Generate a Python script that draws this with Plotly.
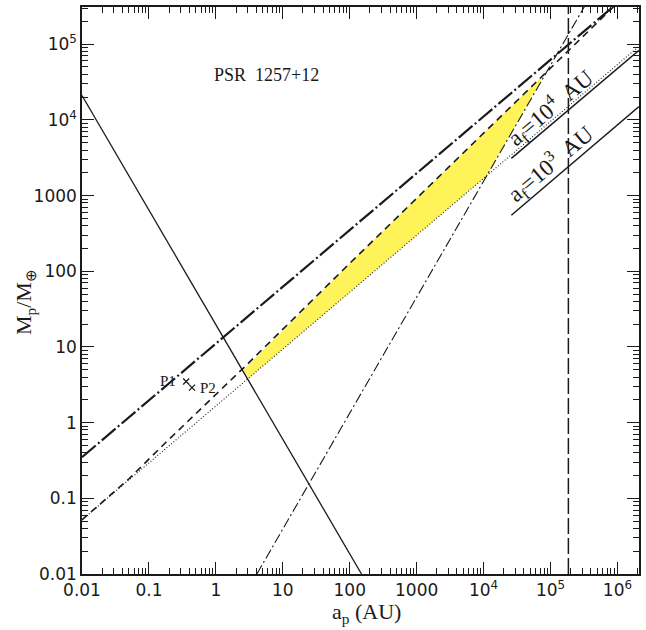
import plotly.graph_objects as go
import numpy as np

# ---- data (a_p in AU, M_p in Earth masses) ----
desc_a = [0.01, 150]            # solid descending line
desc_m = [2.1e4, 0.01]
ldash_a = [0.01, 1e6]           # thick long-dash line
ldash_m = [0.35, 3.5e5]
dashed_a = [0.01, 0.05, 0.18, 2.6, 100, 3200, 8.5e4, 1e6]   # short-dashed curve
dashed_m = [0.052, 0.18, 0.55, 5.3, 127, 2480, 4.2e4, 3.5e5]
dotted_a = [0.01, 2.1e6]
dotted_m = [0.052, 9.4e4]
steep_a = [4.1, 4e5]            # steep dash-dot line
steep_m = [0.01, 4.4e5]
vert_a = [1.85e5, 1.85e5]
vert_m = [0.01, 1e6]
af4_a = [2.6e4, 2.1e6]          # a_f = 10^4 AU
af4_m = [3100, 8.3e4]
af3_a = [2.6e4, 2.1e6]          # a_f = 10^3 AU
af3_m = [550, 1.5e4]
yellow_a = [3.1, 1.1e4, 8.5e4, 3200, 100, 2.6, 3.1]
yellow_m = [3.9, 1820, 4.2e4, 2480, 127, 5.0, 3.9]
planet_a = [0.36, 0.44]
planet_m = [3.5, 2.9]

xtick_vals = [0.01, 0.1, 1, 10, 100, 1000, 1e4, 1e5, 1e6]
xtick_text = ["0.01", "0.1", "1", "10", "100", "1000", "10<sup>4</sup>", "10<sup>5</sup>", "10<sup>6</sup>"]
ytick_vals = [0.01, 0.1, 1, 10, 100, 1000, 1e4, 1e5]
ytick_text = ["0.01", "0.1", "1", "10", "100", "1000", "10<sup>4</sup>", "10<sup>5</sup>"]

INK = "#1a1a1a"
fig = go.Figure()

fig.add_trace(go.Scatter(x=yellow_a, y=yellow_m, fill="toself", fillcolor="#FFF35A",
                         line=dict(width=0), mode="lines", hoverinfo="skip"))
fig.add_trace(go.Scatter(x=desc_a, y=desc_m, mode="lines", line=dict(color=INK, width=1.3)))
fig.add_trace(go.Scatter(x=ldash_a, y=ldash_m, mode="lines",
                         line=dict(color=INK, width=2.2, dash="18px,3px,2px,3px")))
fig.add_trace(go.Scatter(x=dashed_a, y=dashed_m, mode="lines",
                         line=dict(color=INK, width=1.6, dash="7px,5px")))
fig.add_trace(go.Scatter(x=dotted_a, y=dotted_m, mode="lines",
                         line=dict(color=INK, width=1.1, dash="1px,2px")))
fig.add_trace(go.Scatter(x=steep_a, y=steep_m, mode="lines",
                         line=dict(color=INK, width=1.1, dash="10px,3px,2px,3px")))
fig.add_trace(go.Scatter(x=vert_a, y=vert_m, mode="lines",
                         line=dict(color=INK, width=1.5, dash="16px,4px")))
fig.add_trace(go.Scatter(x=af4_a, y=af4_m, mode="lines", line=dict(color=INK, width=1.5)))
fig.add_trace(go.Scatter(x=af3_a, y=af3_m, mode="lines", line=dict(color=INK, width=1.5)))
fig.add_trace(go.Scatter(x=planet_a, y=planet_m, mode="markers",
                         marker=dict(symbol="x-thin", size=6, line=dict(color=INK, width=1.3))))

def minor_vals(lo, hi):
    return [m * 10.0 ** e for e in range(lo, hi) for m in range(2, 10)]

axis_common = dict(type="log", showgrid=False, zeroline=False, showline=True,
                   linecolor=INK, linewidth=1.5, mirror="ticks", ticks="inside",
                   ticklen=12, tickwidth=1.3, tickcolor=INK, tickmode="array",
                   tickfont=dict(family="DejaVu Sans", size=17, color=INK))

fig.update_xaxes(**axis_common, range=[-2, np.log10(2.1e6)], tickvals=xtick_vals, ticktext=xtick_text,
                 minor=dict(ticks="inside", ticklen=6, tickwidth=1.1, tickcolor=INK,
                            tickvals=minor_vals(-2, 7), showgrid=False))
fig.update_yaxes(**axis_common, range=[-2, np.log10(3.1e5)], tickvals=ytick_vals, ticktext=ytick_text,
                 minor=dict(ticks="inside", ticklen=6, tickwidth=1.1, tickcolor=INK,
                            tickvals=minor_vals(-2, 6), showgrid=False))

serif = "Liberation Serif"
ann = [
    dict(x=np.log10(5.7), y=np.log10(3.9e4), xref="x", yref="y", text="PSR  1257+12",
         showarrow=False, font=dict(family=serif, size=18, color=INK)),
    dict(x=np.log10(0.19), y=np.log10(3.5), xref="x", yref="y", text="P1",
         showarrow=False, font=dict(family=serif, size=15, color=INK)),
    dict(x=np.log10(0.76), y=np.log10(2.9), xref="x", yref="y", text="P2",
         showarrow=False, font=dict(family=serif, size=15, color=INK)),
    dict(x=5.0, y=4.16, xref="x", yref="y", text="a<sub>f</sub>=10<sup>4</sup>  AU",
         textangle=-40, showarrow=False, font=dict(family=serif, size=23, color=INK)),
    dict(x=5.0, y=3.42, xref="x", yref="y", text="a<sub>f</sub>=10<sup>3</sup>  AU",
         textangle=-40, showarrow=False, font=dict(family=serif, size=23, color=INK)),
    dict(x=0.51, y=-0.068, xref="paper", yref="paper", text="a<sub>p</sub> (AU)",
         xanchor="center", yanchor="middle",
         showarrow=False, font=dict(family=serif, size=22, color=INK)),
    dict(x=-0.102, y=0.48, xref="paper", yref="paper", text="M<sub>p</sub>/M<sub>⊕</sub>",
         xanchor="center", yanchor="middle",
         textangle=-90, showarrow=False, font=dict(family=serif, size=22, color=INK)),
]
fig.update_layout(width=646, height=630, margin=dict(l=82, r=5, t=5, b=56),
                  plot_bgcolor="white", paper_bgcolor="white", showlegend=False,
                  annotations=ann)

fig.write_html("out.html")
